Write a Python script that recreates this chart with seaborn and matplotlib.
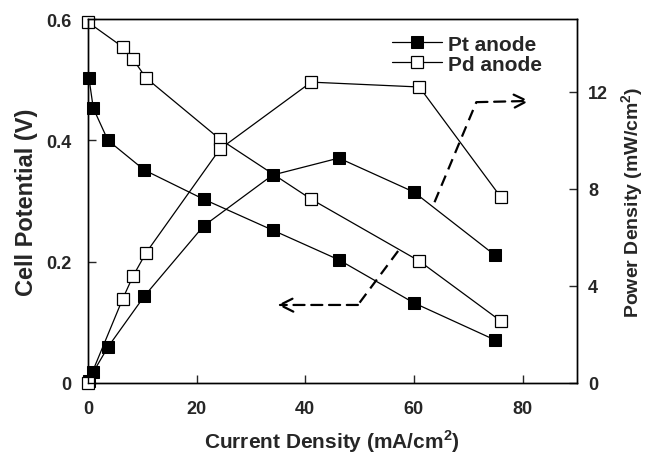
import pandas as pd
import matplotlib
matplotlib.use("Agg")
import matplotlib.pyplot as plt
import seaborn as sns

# Data
pt_current = [0.2, 1.0, 3.7, 10.4, 21.3, 34.0, 46.2, 60.0, 74.9]
pt_voltage = [0.503, 0.453, 0.400, 0.351, 0.303, 0.252, 0.203, 0.132, 0.071]
pt_power = [0.10, 0.45, 1.48, 3.58, 6.47, 8.57, 9.27, 7.87, 5.27]

pd_current = [0.0, 6.4, 8.3, 10.7, 24.3, 41.1, 61.0, 76.0]
pd_voltage = [0.595, 0.554, 0.534, 0.503, 0.402, 0.303, 0.201, 0.102]
pd_power = [0.0, 3.46, 4.40, 5.36, 9.64, 12.40, 12.20, 7.66]

x_ticks = [0, 20, 40, 60, 80]
v_ticks = [0, 0.2, 0.4, 0.6]
v_labels = ["0", "0.2", "0.4", "0.6"]
p_ticks = [0, 4, 8, 12]

df_pt = pd.DataFrame({'current': pt_current, 'voltage': pt_voltage, 'power': pt_power})
df_pd = pd.DataFrame({'current': pd_current, 'voltage': pd_voltage, 'power': pd_power})

sns.set_style("ticks")
plt.rcParams['font.family'] = ['Liberation Sans', 'DejaVu Sans']
plt.rcParams['font.weight'] = 'bold'
plt.rcParams['mathtext.fontset'] = 'custom'
plt.rcParams['mathtext.bf'] = 'Liberation Sans:bold'
plt.rcParams['mathtext.rm'] = 'Liberation Sans:bold'

fig = plt.figure(figsize=(6.46, 4.56), dpi=100)
ax = fig.add_axes([0.136, 0.158, 0.757, 0.798])
ax2 = ax.twinx()

filled = dict(marker='s', color='black', markerfacecolor='black', markeredgecolor='black',
              markersize=8.5, linewidth=0.9, estimator=None, sort=False, clip_on=False)
hollow = dict(marker='s', color='black', markerfacecolor='white', markeredgecolor='black',
              markeredgewidth=0.9, markersize=8.5, linewidth=0.9, estimator=None, sort=False,
              clip_on=False)

sns.lineplot(data=df_pt, x='current', y='voltage', ax=ax, label='Pt anode', **filled)
sns.lineplot(data=df_pd, x='current', y='voltage', ax=ax, label='Pd anode', **hollow)
sns.lineplot(data=df_pt, x='current', y='power', ax=ax2, legend=False, **filled)
sns.lineplot(data=df_pd, x='current', y='power', ax=ax2, legend=False, **hollow)

ax.set_xlim(0, 90)
ax.set_ylim(0, 0.6)
ax2.set_ylim(0, 15)
ax.set_xticks(x_ticks)
ax.set_yticks(v_ticks)
ax.set_yticklabels(v_labels)
ax2.set_yticks(p_ticks)

for a in (ax, ax2):
    a.tick_params(direction='in', length=6, width=1, labelsize=13)
    for s in a.spines.values():
        s.set_linewidth(1)
        s.set_color('black')
ax.tick_params(axis='x', pad=12)
ax.tick_params(axis='y', pad=12)
ax2.tick_params(axis='y', pad=8)

ax.set_xlabel('Current Density (mA/cm$^{\\mathbf{2}}$)', fontsize=15, fontweight='bold', labelpad=8)
ax.set_ylabel('Cell Potential (V)', fontsize=17, fontweight='bold', labelpad=6)
ax2.set_ylabel('Power Density (mW/cm$^{\\mathbf{2}}$)', fontsize=14, fontweight='bold', labelpad=8)
ax2.set_xlabel('')

# dashed pointer arrows
dash = (0, (5, 3))
ax.annotate('', xy=(34.9, 0.1286), xytext=(49.7, 0.1286),
            arrowprops=dict(arrowstyle='->', color='black', lw=1.6, linestyle=dash,
                            mutation_scale=24, shrinkA=0, shrinkB=0))
ax.plot([57.1, 49.7], [0.2176, 0.1286], color='black', lw=1.6, linestyle=dash)
ax.plot([63.8, 71.5], [0.298, 0.463], color='black', lw=1.6, linestyle=dash)
ax.annotate('', xy=(81.3, 0.465), xytext=(71.5, 0.463),
            arrowprops=dict(arrowstyle='->', color='black', lw=1.6, linestyle=dash,
                            mutation_scale=24, shrinkA=0, shrinkB=0))

leg = ax.legend(loc='upper left', bbox_to_anchor=(0.605, 0.98), frameon=False,
                fontsize=15, handlelength=2.4, handletextpad=0.3, labelspacing=0.05,
                borderaxespad=0)
for t in leg.get_texts():
    t.set_fontweight('bold')

fig.savefig('out.png', dpi=100)
